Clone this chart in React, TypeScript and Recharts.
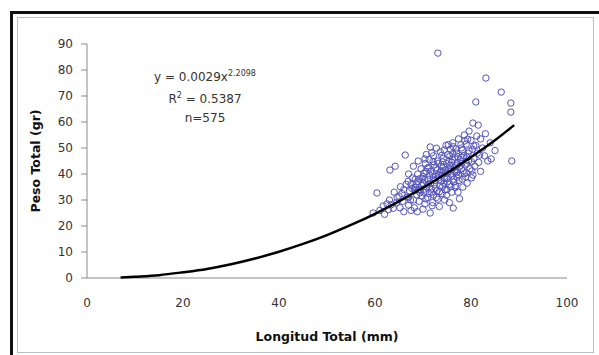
import React from 'react';
import { ScatterChart, Scatter, XAxis, YAxis } from 'recharts';

// Longitud total (mm) vs peso total (gr)
const specimens: [number, number][] = [
  [59.6, 25], [60.4, 32.7], [61.7, 27.7], [61, 26], [62.5, 28.5], [63, 30], [63.1, 41.5], [64.2, 43],
  [62, 24.5], [63.8, 26.8], [64.5, 29], [65, 31.5], [65.2, 27], [64, 33], [66, 34], [65.8, 29.5],
  [66.3, 47.3], [66.5, 36], [66, 25.5], [67, 28], [67, 31], [67.2, 33.5], [67.5, 36], [67.8, 38.5],
  [68, 30], [68.2, 27], [68.5, 35], [68.7, 32], [68.9, 40], [69, 37], [69.2, 29.5], [69.5, 34],
  [69.6, 42], [69.8, 31.5], [70, 36.5], [70, 39], [70.2, 33], [70.4, 28.5], [70.5, 44], [70.6, 41],
  [67, 40], [68, 43], [69, 45], [67.5, 26], [68.8, 25.5], [70, 26.5], [70.8, 35], [71, 38], [71, 31],
  [71.2, 42.5], [71.3, 45.5], [71.5, 25], [71.5, 50.4], [71.6, 36.5], [71.8, 33], [72, 40], [72, 29],
  [72.2, 47], [72.3, 43.5], [72.5, 37.5], [72.6, 34.5], [72.8, 31], [73, 41.5], [73, 45], [73.2, 38.5],
  [73.4, 27.5], [73.5, 35.5], [73.6, 48.5], [73.8, 43], [74, 32.5], [74, 39.5], [74.2, 46], [74.4, 36.5],
  [74.5, 30], [74.6, 41.5], [74.8, 51], [74.9, 44], [75, 34], [75, 38.5], [75.2, 47.5], [75.3, 42],
  [75.5, 29], [75.5, 36], [75.7, 49.5], [75.8, 40], [76, 44.5], [76, 33], [76.3, 26.9], [76.2, 52],
  [76.4, 38], [76.5, 42.5], [76.6, 46.5], [76.8, 35.5], [77, 40.5], [77, 48], [77.2, 44], [77.3, 33],
  [77.4, 53.5], [77.5, 37.5], [77.6, 30.5], [77.8, 45.5], [78, 42], [78, 50], [78.2, 38], [78.3, 35],
  [78.5, 47], [78.6, 55], [78.8, 43.5], [79, 40.5], [79, 51.5], [79.2, 36.5], [79.4, 48], [79.5, 45],
  [79.6, 56.5], [79.8, 42], [80, 53], [80.1, 38.5], [80.3, 49.5], [80.4, 39.6], [80.4, 59.6], [80.6, 46],
  [80.8, 43], [81, 51], [81.3, 48], [81.5, 58.8], [81.6, 44.5], [82, 53.5], [82, 41], [82.4, 50],
  [82.8, 47], [83, 55.5], [83.5, 45], [84.2, 45.8], [84, 52], [85, 49],
  [69.3, 38.2], [70.3, 37.7], [71.4, 39.5], [72.4, 36], [73.3, 39.9], [74.3, 42.8], [75.4, 44.8],
  [76.2, 47.8], [77.3, 46.7], [78.2, 49.3], [71.7, 34.2], [72.9, 33.5], [74.1, 35.2], [75.1, 37],
  [76.1, 39.3], [77.1, 41.6], [78.1, 44.2], [79.1, 46.6], [70.1, 34.1], [69.4, 32.8], [68.3, 33.6],
  [67.4, 30], [66.7, 31.2], [65.6, 32.5], [73.7, 37.3], [74.7, 40.5], [75.9, 41.7], [76.9, 43.2],
  [72.1, 44.8], [73.9, 47.2], [75.3, 51.3], [70.7, 47.5], [68.4, 38], [71.9, 27.8], [73.1, 30.3],
  [74.9, 31.8], [76.7, 34.8], [78.9, 38.9], [80.2, 41.2], [81.8, 47.3],
  [68.6, 36.2], [69.1, 33.9], [69.7, 35.6], [70.2, 40.3], [70.9, 42.3], [71.1, 36.1], [71.6, 41.1],
  [72.2, 38.7], [72.7, 42.4], [73.2, 44.1], [73.6, 40.8], [74.1, 44.6], [74.5, 38.2], [75.1, 40.1],
  [75.6, 43.3], [76.1, 45.6], [76.6, 40.7], [77.1, 38.8], [77.6, 42.8], [78.1, 46.4], [78.6, 40.1],
  [79.1, 44.1], [79.6, 48.9], [80.1, 44.7], [80.6, 50.8], [71.3, 32.6], [72.2, 31.9], [73.4, 33.2],
  [74.6, 33.9], [75.8, 35.1], [76.4, 36.9], [77.4, 39.6], [78.4, 41.2], [68.1, 34.8], [69.9, 38.3],
  [70.6, 30.4], [72.6, 39.2], [73.9, 41.2], [75.6, 46.9], [76.9, 49.6], [77.9, 51.3], [79.3, 53.4],
  [67.7, 34.4], [66.9, 37.2], [65.3, 35.1], [64.6, 31], [63.4, 28.2], [62.8, 26.3], [70.4, 45.8],
  [71.8, 48.1], [72.8, 49.9], [74.4, 49.2], [76.3, 50.5], [78.7, 52.7], [81.2, 54.6],
];

const outliers: [number, number][] = [
  [73.1, 86.5], [83.1, 76.9], [86.3, 71.5], [81, 67.7], [88.3, 67.3], [88.3, 63.8], [88.5, 45],
];

// power trend line as drawn in the figure
const trendLen = [7, 10, 15, 20, 25, 30, 35, 40, 45, 50, 55, 60, 65, 70, 75, 80, 85, 89];
const trendWeight = [0.2, 0.5, 1.1, 2.2, 3.5, 5.3, 7.5, 10.1, 13.1, 16.5, 20.4, 24.7, 29.5, 34.7, 40.4, 46.5, 53, 58.8];

const xTicks = [0, 20, 40, 60, 80, 100];
const yTicks = [0, 10, 20, 30, 40, 50, 60, 70, 80, 90];

const points = [...specimens, ...outliers].map(([x, y]) => ({ x, y }));
const trend = trendLen.map((x, i) => ({ x, y: trendWeight[i] }));

const font = '"DejaVu Sans", Verdana, sans-serif';

const OpenCircle = (props: any) => {
  const { cx, cy } = props;
  return <circle cx={cx} cy={cy} r={3.2} fill="none" stroke="#5555bb" strokeWidth={1} />;
};

const NoDot = () => <g />;

export default function App() {
  return (
    <div style={{ position: 'fixed', left: 0, top: 0, width: 599, height: 355, background: '#fff', overflow: 'hidden' }}>
      <div style={{ position: 'absolute', left: 10, top: 11, width: 600, height: 360, borderTop: '3px solid #111', borderLeft: '3px solid #111' }} />
      <div style={{ position: 'absolute', left: 17, top: 17, width: 575, height: 334, border: '1px solid #b8c0c0' }} />
      <div style={{ position: 'absolute', left: 0, top: 0 }}>
        <ScatterChart width={599} height={355} margin={{ top: 44, right: 32, bottom: 7, left: 10 }}>
          <XAxis
            type="number"
            dataKey="x"
            domain={[0, 100]}
            ticks={xTicks}
            height={70}
            tickLine={false}
            tickMargin={14}
            axisLine={{ stroke: '#8a8a8a' }}
            tick={{ fill: '#333', fontSize: 12, fontFamily: font }}
            label={{ value: 'Longitud Total (mm)', position: 'insideBottom', offset: 7, style: { fontFamily: font, fontWeight: 'bold', fontSize: 12.5, fill: '#111' } }}
          />
          <YAxis
            type="number"
            dataKey="y"
            domain={[0, 90]}
            ticks={yTicks}
            width={77}
            tickSize={6}
            tickMargin={8}
            axisLine={{ stroke: '#8a8a8a' }}
            tickLine={{ stroke: '#8a8a8a' }}
            tick={{ fill: '#333', fontSize: 12, fontFamily: font }}
            label={{ value: 'Peso Total (gr)', angle: -90, position: 'insideLeft', offset: 26, style: { textAnchor: 'middle', fontFamily: font, fontWeight: 'bold', fontSize: 12.5, fill: '#111' } }}
          />
          <Scatter data={points} shape={OpenCircle} isAnimationActive={false} />
          <Scatter
            data={trend}
            shape={NoDot}
            line={{ stroke: '#000', strokeWidth: 2.5 }}
            lineJointType="monotoneX"
            isAnimationActive={false}
          />
        </ScatterChart>
      </div>
      <svg width={599} height={355} style={{ position: 'absolute', left: 0, top: 0, pointerEvents: 'none' }}>
        <g fontFamily={font} fontSize={12} fill="#333" textAnchor="middle">
          <text x={205} y={81}>
            y = 0.0029x<tspan fontSize={8} dy={-5}>2.2098</tspan>
          </text>
          <text x={205} y={103}>
            R<tspan fontSize={8} dy={-5}>2</tspan><tspan dy={5}> = 0.5387</tspan>
          </text>
          <text x={205} y={122}>n=575</text>
        </g>
      </svg>
    </div>
  );
}
